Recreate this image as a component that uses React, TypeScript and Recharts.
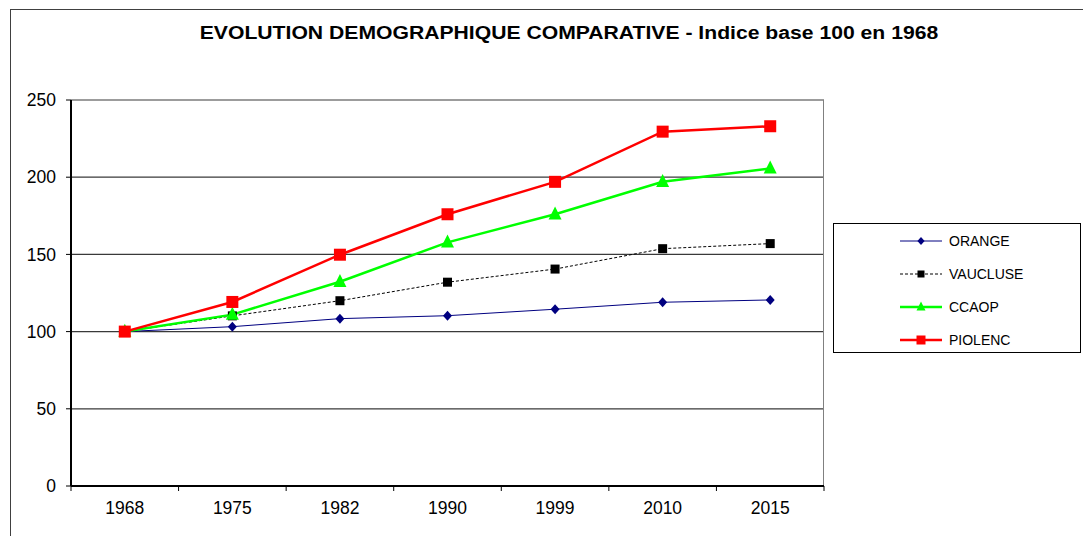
import {
  LineChart,
  Line,
  XAxis,
  YAxis,
  CartesianGrid
} from "recharts";

const annees = ["1968", "1975", "1982", "1990", "1999", "2010", "2015"];
const orange = [100, 103.2, 108.4, 110.3, 114.5, 119, 120.5];
const vaucluse = [100, 110.2, 120, 132, 140.5, 153.7, 157];
const ccaop = [100, 111, 132.3, 157.8, 176, 197, 205.7];
const piolenc = [100, 119.2, 149.8, 176, 197, 229.5, 233];
const yTicks = [0, 50, 100, 150, 200, 250];

const data = annees.map((a, i) => ({
  annee: a,
  orange: orange[i],
  vaucluse: vaucluse[i],
  ccaop: ccaop[i],
  piolenc: piolenc[i]
}));

const W = 1083;
const H = 536;
const PLOT_LEFT = 71;
const PLOT_RIGHT = 824;
const BAND = (PLOT_RIGHT - PLOT_LEFT) / annees.length;
const FONT = "Arial, 'Liberation Sans', sans-serif";

// marqueurs
const Losange = ({ cx, cy, size = 5, fill }: any) => (
  <path d={`M${cx},${cy - size} L${cx + size * 0.9},${cy} L${cx},${cy + size} L${cx - size * 0.9},${cy} Z`} fill={fill} />
);
const Carre = ({ cx, cy, size, fill }: any) => (
  <rect x={cx - size / 2} y={cy - size / 2} width={size} height={size} fill={fill} />
);
const Triangle = ({ cx, cy, size, fill }: any) => (
  <path d={`M${cx},${cy - size * 0.6} L${cx + size / 2},${cy + size * 0.4} L${cx - size / 2},${cy + size * 0.4} Z`} fill={fill} />
);

const series = [
  { key: "orange", name: "ORANGE", color: "#000080", width: 1, dash: undefined, Shape: Losange, size: 5, legendSize: 4 },
  { key: "vaucluse", name: "VAUCLUSE", color: "#000000", width: 1, dash: "3 2", Shape: Carre, size: 9, legendSize: 7 },
  { key: "ccaop", name: "CCAOP", color: "#00ff00", width: 2.5, dash: undefined, Shape: Triangle, size: 13, legendSize: 9 },
  { key: "piolenc", name: "PIOLENC", color: "#ff0000", width: 2.5, dash: undefined, Shape: Carre, size: 12, legendSize: 9 }
];

const XTick = ({ x, y, payload, index }: any) => (
  <g>
    <line x1={x - BAND / 2} y1={y} x2={x - BAND / 2} y2={y + 5} stroke="#000" />
    {index === annees.length - 1 && (
      <line x1={x + BAND / 2} y1={y} x2={x + BAND / 2} y2={y + 5} stroke="#000" />
    )}
    <text x={x} y={y + 28} textAnchor="middle" fontSize={17.5} fontFamily={FONT} fill="#000">
      {payload.value}
    </text>
  </g>
);

const Legende = () => (
  <div
    style={{
      position: "absolute",
      left: 833,
      top: 223,
      width: 248,
      height: 130,
      border: "1px solid #000",
      background: "#fff",
      fontFamily: FONT,
      fontSize: 14,
      boxSizing: "border-box",
      paddingTop: 0
    }}
  >
    {series.map((s) => (
      <div key={s.key} style={{ display: "flex", alignItems: "center", height: 33 }}>
        <svg width={60} height={16} style={{ marginLeft: 65 }}>
          <line x1={1} y1={8} x2={43} y2={8} stroke={s.color} strokeWidth={s.width} strokeDasharray={s.dash} />
          <s.Shape cx={22} cy={8} size={s.legendSize} fill={s.color} />
        </svg>
        <span style={{ marginLeft: -10 }}>{s.name}</span>
      </div>
    ))}
  </div>
);

export default function App() {
  return (
    <div style={{ position: "absolute", left: 0, top: 0, width: W, height: H, background: "#fff", overflow: "hidden" }}>
      <div
        style={{
          position: "absolute",
          left: 10,
          top: 9,
          width: W,
          height: H,
          borderLeft: "1.5px solid #404040",
          borderTop: "1.5px solid #404040"
        }}
      />
      <div
        style={{
          position: "absolute",
          left: 0,
          top: 23,
          width: 1138,
          textAlign: "center",
          fontFamily: FONT,
          fontWeight: "bold",
          fontSize: 18,
          color: "#000",
          transform: "scaleX(1.175)",
          transformOrigin: "569px 0"
        }}
      >
        EVOLUTION DEMOGRAPHIQUE COMPARATIVE - Indice base 100 en 1968
      </div>
      <div style={{ position: "absolute", left: 0, top: 0 }}>
        <LineChart width={W} height={H} data={data} margin={{ top: 100, right: W - PLOT_RIGHT, bottom: 20, left: 0 }}>
          <CartesianGrid horizontal vertical={false} stroke="#3a3a3a" strokeWidth={1.2} />
          {/* bord droit de la zone de tracé */}
          <CartesianGrid horizontal={false} vertical verticalPoints={[PLOT_RIGHT - 0.5]} stroke="#808080" strokeWidth={1} />
          <XAxis
            dataKey="annee"
            height={30}
            padding={{ left: BAND / 2, right: BAND / 2 }}
            axisLine={{ stroke: "#000", strokeWidth: 2 }}
            tickLine={false}
            tickSize={0}
            tickMargin={0}
            tick={<XTick />}
            interval={0}
          />
          <YAxis
            width={PLOT_LEFT}
            domain={[0, 250]}
            ticks={yTicks}
            axisLine={{ stroke: "#000", strokeWidth: 2 }}
            tickLine={{ stroke: "#000" }}
            tickSize={5}
            tickMargin={10}
            tick={{ fontSize: 17.5, fontFamily: FONT, fill: "#000" }}
          />
          {series.map((s) => (
            <Line
              key={s.key}
              dataKey={s.key}
              name={s.name}
              type="linear"
              stroke={s.color}
              strokeWidth={s.width}
              strokeDasharray={s.dash}
              isAnimationActive={false}
              dot={(p: any) => <s.Shape key={`${s.key}-${p.index}`} cx={p.cx} cy={p.cy} size={s.size} fill={s.color} />}
              activeDot={false}
            />
          ))}
        </LineChart>
      </div>
      <Legende />
    </div>
  );
}
